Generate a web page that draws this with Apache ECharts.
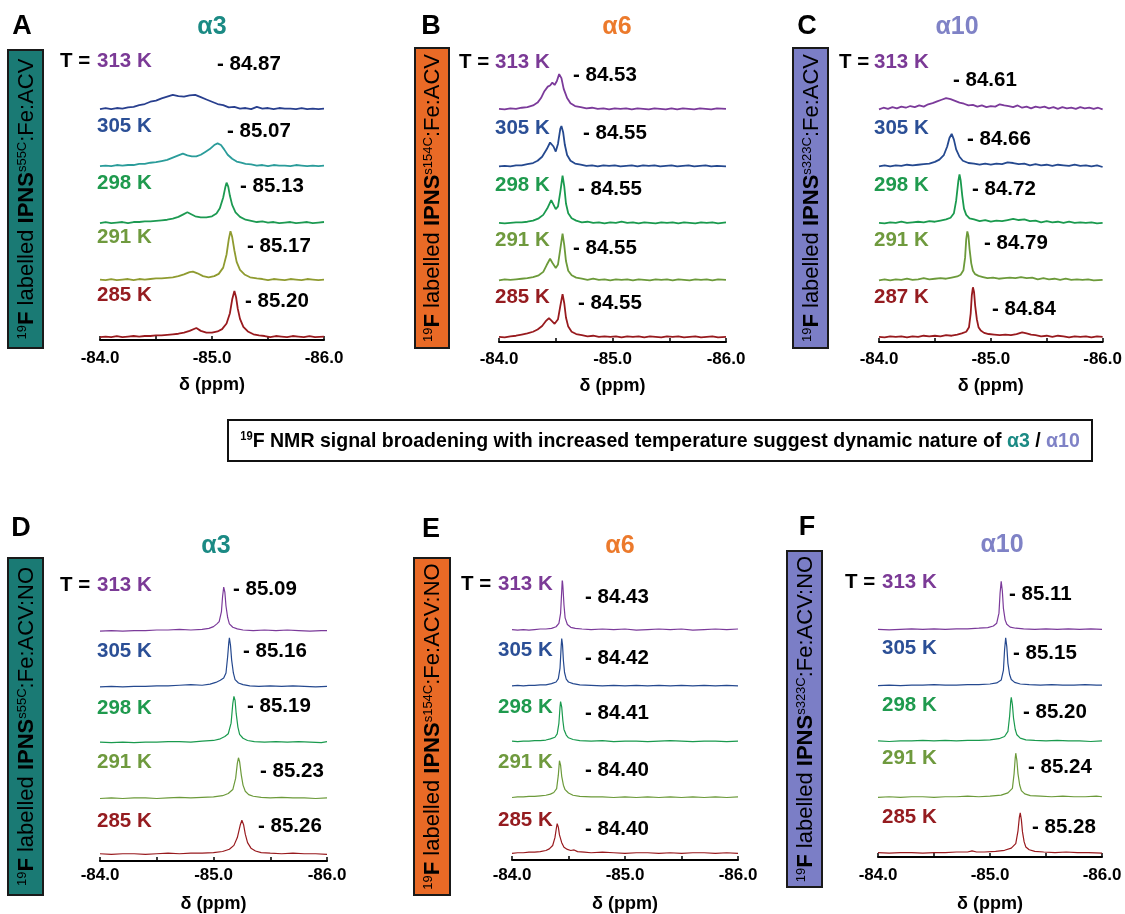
<!DOCTYPE html>
<html>
<head>
<meta charset="utf-8">
<script src="https://cdn.jsdelivr.net/npm/echarts@6/dist/echarts.min.js"></script>
<style>
  html, body { margin: 0; padding: 0; background: #fff; }
  #main { width: 1125px; height: 914px; }
</style>
</head>
<body>
<div id="main"></div>
<script>
// ---- data: 19F spectra, [ppm, intensity], one unit = trace spacing ----
// panel A  (alpha3, Fe:ACV)
const a313 = [[-84.00,0.00],[-84.05,0.02],[-84.10,0.00],[-84.15,0.02],[-84.20,0.01],[-84.25,0.03],[-84.30,0.04],[-84.35,0.07],[-84.40,0.09],[-84.45,0.13],[-84.50,0.15],[-84.55,0.19],[-84.60,0.22],[-84.65,0.25],[-84.70,0.23],[-84.75,0.22],[-84.80,0.24],[-84.85,0.25],[-84.90,0.21],[-84.95,0.17],[-85.00,0.13],[-85.05,0.09],[-85.10,0.07],[-85.15,0.03],[-85.20,0.04],[-85.25,0.01],[-85.30,0.02],[-85.35,0.00],[-85.40,0.04],[-85.45,0.01],[-85.50,0.02],[-85.55,0.00],[-85.60,0.02],[-85.65,0.01],[-85.70,0.01],[-85.75,0.00],[-85.80,0.02],[-85.85,0.00],[-85.90,0.01],[-85.95,0.00],[-86.00,0.01]];
const a305 = [[-84.00,0.00],[-84.05,0.01],[-84.10,0.00],[-84.15,0.02],[-84.20,0.01],[-84.25,0.02],[-84.30,0.02],[-84.35,0.04],[-84.40,0.04],[-84.45,0.06],[-84.50,0.07],[-84.55,0.09],[-84.60,0.11],[-84.65,0.15],[-84.70,0.19],[-84.74,0.22],[-84.78,0.19],[-84.82,0.17],[-84.86,0.17],[-84.90,0.20],[-84.94,0.25],[-84.98,0.30],[-85.02,0.37],[-85.05,0.40],[-85.08,0.37],[-85.11,0.29],[-85.14,0.20],[-85.18,0.13],[-85.22,0.08],[-85.26,0.06],[-85.30,0.04],[-85.35,0.03],[-85.40,0.01],[-85.45,0.02],[-85.50,0.00],[-85.55,0.02],[-85.60,0.01],[-85.65,0.01],[-85.70,0.00],[-85.75,0.02],[-85.80,0.01],[-85.85,0.00],[-85.90,0.01],[-85.95,0.00],[-86.00,0.01]];
const a298 = [[-84.00,0.00],[-84.05,0.02],[-84.10,0.00],[-84.15,0.01],[-84.20,0.02],[-84.25,0.00],[-84.30,0.02],[-84.35,0.02],[-84.40,0.03],[-84.45,0.03],[-84.50,0.04],[-84.55,0.05],[-84.60,0.06],[-84.65,0.08],[-84.70,0.11],[-84.74,0.15],[-84.78,0.19],[-84.81,0.16],[-84.85,0.12],[-84.90,0.10],[-84.95,0.10],[-85.00,0.12],[-85.04,0.17],[-85.07,0.26],[-85.10,0.45],[-85.12,0.64],[-85.13,0.71],[-85.145,0.64],[-85.16,0.48],[-85.18,0.32],[-85.21,0.19],[-85.25,0.11],[-85.30,0.06],[-85.35,0.04],[-85.40,0.02],[-85.45,0.03],[-85.50,0.01],[-85.55,0.02],[-85.60,0.00],[-85.65,0.01],[-85.70,0.02],[-85.75,0.00],[-85.80,0.01],[-85.85,0.02],[-85.90,0.00],[-85.95,0.01],[-86.00,0.02]];
const a291 = [[-84.00,0.01],[-84.05,0.00],[-84.10,0.02],[-84.15,0.00],[-84.20,0.01],[-84.25,0.02],[-84.30,0.00],[-84.35,0.02],[-84.40,0.01],[-84.45,0.02],[-84.50,0.03],[-84.55,0.03],[-84.60,0.04],[-84.65,0.05],[-84.70,0.07],[-84.75,0.10],[-84.80,0.14],[-84.83,0.15],[-84.87,0.12],[-84.92,0.07],[-84.97,0.05],[-85.02,0.07],[-85.06,0.11],[-85.10,0.22],[-85.13,0.45],[-85.15,0.72],[-85.165,0.86],[-85.18,0.76],[-85.20,0.52],[-85.22,0.32],[-85.25,0.18],[-85.29,0.10],[-85.34,0.05],[-85.40,0.03],[-85.45,0.02],[-85.50,0.00],[-85.55,0.02],[-85.60,0.01],[-85.65,0.00],[-85.70,0.02],[-85.75,0.01],[-85.80,0.00],[-85.85,0.02],[-85.90,0.01],[-85.95,0.00],[-86.00,0.01]];
const a285 = [[-84.00,0.00],[-84.05,0.01],[-84.10,0.00],[-84.15,0.02],[-84.20,0.00],[-84.25,0.01],[-84.30,0.02],[-84.35,0.01],[-84.40,0.02],[-84.45,0.02],[-84.50,0.03],[-84.55,0.03],[-84.60,0.04],[-84.65,0.05],[-84.70,0.06],[-84.75,0.08],[-84.80,0.11],[-84.86,0.16],[-84.90,0.11],[-84.95,0.08],[-85.00,0.08],[-85.05,0.10],[-85.09,0.14],[-85.13,0.24],[-85.16,0.42],[-85.18,0.66],[-85.20,0.81],[-85.215,0.70],[-85.23,0.50],[-85.25,0.32],[-85.28,0.18],[-85.32,0.10],[-85.37,0.05],[-85.42,0.03],[-85.47,0.02],[-85.52,0.00],[-85.57,0.02],[-85.62,0.01],[-85.67,0.00],[-85.72,0.02],[-85.77,0.01],[-85.82,0.00],[-85.87,0.02],[-85.92,0.00],[-86.00,0.01]];
// panel B  (alpha6, Fe:ACV)
const b313 = [[-84.00,0.01],[-84.05,0.00],[-84.10,0.02],[-84.15,0.01],[-84.20,0.03],[-84.25,0.04],[-84.30,0.07],[-84.34,0.12],[-84.37,0.20],[-84.40,0.32],[-84.43,0.40],[-84.45,0.42],[-84.47,0.47],[-84.49,0.43],[-84.51,0.50],[-84.53,0.62],[-84.55,0.55],[-84.57,0.36],[-84.60,0.20],[-84.63,0.11],[-84.67,0.06],[-84.72,0.04],[-84.77,0.02],[-84.82,0.03],[-84.87,0.01],[-84.92,0.02],[-84.97,0.00],[-85.02,0.02],[-85.07,0.01],[-85.12,0.02],[-85.17,0.00],[-85.22,0.02],[-85.27,0.01],[-85.32,0.00],[-85.37,0.02],[-85.42,0.01],[-85.47,0.00],[-85.52,0.02],[-85.57,0.00],[-85.62,0.02],[-85.67,0.01],[-85.72,0.00],[-85.77,0.02],[-85.82,0.01],[-85.87,0.00],[-85.92,0.02],[-86.00,0.01]];
const b305 = [[-84.00,0.00],[-84.05,0.01],[-84.10,0.00],[-84.15,0.02],[-84.20,0.02],[-84.25,0.04],[-84.30,0.06],[-84.34,0.10],[-84.38,0.17],[-84.42,0.30],[-84.45,0.42],[-84.46,0.45],[-84.48,0.35],[-84.50,0.26],[-84.52,0.40],[-84.54,0.66],[-84.55,0.71],[-84.565,0.60],[-84.58,0.38],[-84.60,0.20],[-84.63,0.10],[-84.67,0.05],[-84.72,0.03],[-84.77,0.01],[-84.82,0.02],[-84.87,0.00],[-84.92,0.02],[-84.97,0.01],[-85.02,0.02],[-85.07,0.00],[-85.12,0.01],[-85.17,0.02],[-85.22,0.00],[-85.27,0.02],[-85.32,0.01],[-85.37,0.02],[-85.42,0.00],[-85.47,0.01],[-85.52,0.02],[-85.57,0.00],[-85.62,0.01],[-85.67,0.02],[-85.72,0.00],[-85.77,0.01],[-85.82,0.02],[-85.87,0.00],[-85.92,0.01],[-86.00,0.00]];
const b298 = [[-84.00,0.01],[-84.05,0.00],[-84.10,0.01],[-84.15,0.02],[-84.20,0.02],[-84.25,0.03],[-84.30,0.05],[-84.35,0.09],[-84.39,0.15],[-84.43,0.28],[-84.46,0.41],[-84.48,0.33],[-84.50,0.25],[-84.52,0.30],[-84.54,0.55],[-84.56,0.84],[-84.575,0.65],[-84.59,0.35],[-84.61,0.18],[-84.64,0.09],[-84.68,0.05],[-84.73,0.02],[-84.78,0.03],[-84.83,0.01],[-84.88,0.02],[-84.93,0.00],[-84.98,0.02],[-85.03,0.01],[-85.08,0.03],[-85.13,0.01],[-85.18,0.02],[-85.23,0.00],[-85.28,0.02],[-85.33,0.01],[-85.38,0.00],[-85.43,0.02],[-85.48,0.01],[-85.53,0.02],[-85.58,0.00],[-85.63,0.02],[-85.68,0.01],[-85.73,0.00],[-85.78,0.02],[-85.83,0.01],[-85.88,0.02],[-85.93,0.00],[-86.00,0.02]];
const b291 = [[-84.00,0.00],[-84.05,0.02],[-84.10,0.01],[-84.15,0.02],[-84.20,0.03],[-84.25,0.04],[-84.30,0.06],[-84.35,0.09],[-84.39,0.15],[-84.42,0.27],[-84.45,0.38],[-84.47,0.31],[-84.50,0.22],[-84.52,0.28],[-84.54,0.55],[-84.56,0.82],[-84.575,0.62],[-84.59,0.34],[-84.61,0.17],[-84.64,0.09],[-84.68,0.05],[-84.73,0.03],[-84.78,0.01],[-84.83,0.03],[-84.88,0.01],[-84.93,0.02],[-84.98,0.00],[-85.03,0.02],[-85.08,0.01],[-85.13,0.02],[-85.18,0.00],[-85.23,0.02],[-85.28,0.01],[-85.33,0.00],[-85.38,0.02],[-85.43,0.01],[-85.48,0.02],[-85.53,0.00],[-85.58,0.02],[-85.63,0.01],[-85.68,0.00],[-85.73,0.02],[-85.78,0.01],[-85.83,0.02],[-85.88,0.00],[-85.93,0.02],[-86.00,0.01]];
const b285 = [[-84.00,0.01],[-84.05,0.00],[-84.10,0.02],[-84.15,0.03],[-84.20,0.05],[-84.25,0.07],[-84.30,0.10],[-84.34,0.14],[-84.38,0.20],[-84.41,0.28],[-84.44,0.34],[-84.46,0.30],[-84.49,0.24],[-84.52,0.32],[-84.54,0.55],[-84.56,0.76],[-84.575,0.60],[-84.59,0.35],[-84.61,0.19],[-84.64,0.10],[-84.68,0.06],[-84.73,0.04],[-84.78,0.02],[-84.83,0.03],[-84.88,0.01],[-84.93,0.02],[-84.98,0.01],[-85.03,0.02],[-85.08,0.00],[-85.13,0.02],[-85.18,0.01],[-85.23,0.02],[-85.28,0.00],[-85.33,0.02],[-85.38,0.01],[-85.43,0.00],[-85.48,0.02],[-85.53,0.01],[-85.58,0.02],[-85.63,0.00],[-85.68,0.01],[-85.73,0.02],[-85.78,0.00],[-85.83,0.01],[-85.88,0.02],[-85.93,0.00],[-86.00,0.01]];
// panel C  (alpha10, Fe:ACV)
const c313 = [[-84.00,0.00],[-84.04,0.03],[-84.08,0.01],[-84.12,0.04],[-84.16,0.02],[-84.20,0.05],[-84.24,0.03],[-84.28,0.06],[-84.32,0.04],[-84.36,0.07],[-84.40,0.05],[-84.44,0.09],[-84.48,0.11],[-84.52,0.14],[-84.56,0.17],[-84.60,0.20],[-84.64,0.18],[-84.68,0.15],[-84.72,0.12],[-84.76,0.10],[-84.80,0.07],[-84.84,0.08],[-84.88,0.05],[-84.92,0.07],[-84.96,0.04],[-85.00,0.06],[-85.04,0.05],[-85.08,0.09],[-85.12,0.07],[-85.16,0.06],[-85.20,0.04],[-85.24,0.07],[-85.28,0.03],[-85.32,0.05],[-85.36,0.02],[-85.40,0.05],[-85.44,0.03],[-85.48,0.05],[-85.52,0.02],[-85.56,0.04],[-85.60,0.01],[-85.64,0.04],[-85.68,0.02],[-85.72,0.03],[-85.76,0.01],[-85.80,0.04],[-85.84,0.02],[-85.88,0.03],[-85.92,0.01],[-85.96,0.03],[-86.00,0.00]];
const c305 = [[-84.00,0.00],[-84.05,0.02],[-84.10,0.00],[-84.15,0.02],[-84.20,0.01],[-84.25,0.03],[-84.30,0.02],[-84.35,0.03],[-84.40,0.04],[-84.45,0.05],[-84.50,0.08],[-84.54,0.12],[-84.58,0.20],[-84.61,0.35],[-84.63,0.50],[-84.65,0.57],[-84.67,0.47],[-84.69,0.30],[-84.72,0.17],[-84.75,0.10],[-84.80,0.06],[-84.85,0.05],[-84.90,0.03],[-84.95,0.05],[-85.00,0.03],[-85.05,0.05],[-85.10,0.04],[-85.15,0.07],[-85.20,0.06],[-85.25,0.04],[-85.30,0.05],[-85.35,0.02],[-85.40,0.04],[-85.45,0.02],[-85.50,0.03],[-85.55,0.01],[-85.60,0.03],[-85.65,0.02],[-85.70,0.01],[-85.75,0.03],[-85.80,0.01],[-85.85,0.02],[-85.90,0.00],[-85.95,0.02],[-86.00,-0.01]];
const c298 = [[-84.00,0.01],[-84.05,0.00],[-84.10,0.02],[-84.15,0.01],[-84.20,0.03],[-84.25,0.01],[-84.30,0.02],[-84.35,0.03],[-84.40,0.02],[-84.45,0.04],[-84.50,0.03],[-84.55,0.05],[-84.60,0.07],[-84.64,0.10],[-84.67,0.18],[-84.69,0.40],[-84.71,0.75],[-84.72,0.86],[-84.73,0.76],[-84.745,0.48],[-84.76,0.26],[-84.78,0.15],[-84.81,0.09],[-84.85,0.07],[-84.90,0.04],[-84.95,0.06],[-85.00,0.03],[-85.05,0.05],[-85.10,0.04],[-85.15,0.06],[-85.20,0.08],[-85.25,0.06],[-85.30,0.07],[-85.35,0.04],[-85.40,0.05],[-85.45,0.02],[-85.50,0.04],[-85.55,0.02],[-85.60,0.03],[-85.65,0.01],[-85.70,0.03],[-85.75,0.01],[-85.80,0.02],[-85.85,0.01],[-85.90,0.02],[-85.95,0.00],[-86.00,0.01]];
const c291 = [[-84.00,0.00],[-84.05,0.02],[-84.10,0.00],[-84.15,0.02],[-84.20,0.01],[-84.25,0.03],[-84.30,0.01],[-84.35,0.02],[-84.40,0.04],[-84.45,0.02],[-84.50,0.03],[-84.55,0.04],[-84.60,0.03],[-84.65,0.05],[-84.70,0.07],[-84.73,0.10],[-84.755,0.18],[-84.77,0.40],[-84.78,0.72],[-84.79,0.86],[-84.80,0.78],[-84.81,0.55],[-84.825,0.30],[-84.84,0.17],[-84.86,0.11],[-84.89,0.08],[-84.93,0.06],[-84.97,0.04],[-85.02,0.05],[-85.07,0.03],[-85.12,0.04],[-85.17,0.05],[-85.22,0.04],[-85.27,0.06],[-85.32,0.04],[-85.37,0.05],[-85.42,0.02],[-85.47,0.04],[-85.52,0.02],[-85.57,0.03],[-85.62,0.01],[-85.67,0.03],[-85.72,0.01],[-85.77,0.02],[-85.82,0.01],[-85.87,0.02],[-85.92,0.00],[-86.00,0.01]];
const c287 = [[-84.00,0.01],[-84.05,0.00],[-84.10,0.02],[-84.15,0.01],[-84.20,0.02],[-84.25,0.00],[-84.30,0.02],[-84.35,0.01],[-84.40,0.03],[-84.45,0.02],[-84.50,0.03],[-84.55,0.02],[-84.60,0.04],[-84.65,0.03],[-84.70,0.05],[-84.74,0.07],[-84.78,0.10],[-84.805,0.18],[-84.82,0.42],[-84.83,0.74],[-84.84,0.88],[-84.85,0.80],[-84.86,0.56],[-84.875,0.32],[-84.89,0.18],[-84.91,0.12],[-84.94,0.08],[-84.98,0.06],[-85.03,0.05],[-85.08,0.04],[-85.13,0.05],[-85.18,0.04],[-85.23,0.06],[-85.28,0.09],[-85.32,0.07],[-85.36,0.05],[-85.40,0.04],[-85.45,0.02],[-85.50,0.03],[-85.55,0.01],[-85.60,0.03],[-85.65,0.02],[-85.70,0.00],[-85.75,0.02],[-85.80,0.01],[-85.85,0.02],[-85.90,0.00],[-85.95,0.02],[-86.00,0.01]];
// panel D  (alpha3, Fe:ACV:NO)
const d313 = [[-84.00,0.00],[-84.10,0.01],[-84.20,0.00],[-84.30,0.01],[-84.40,0.01],[-84.50,0.02],[-84.60,0.02],[-84.70,0.03],[-84.80,0.02],[-84.90,0.03],[-84.96,0.05],[-85.00,0.08],[-85.03,0.13],[-85.05,0.17],[-85.07,0.35],[-85.08,0.62],[-85.09,0.79],[-85.10,0.70],[-85.11,0.45],[-85.125,0.24],[-85.14,0.13],[-85.17,0.07],[-85.21,0.04],[-85.26,0.02],[-85.35,0.01],[-85.45,0.02],[-85.55,0.01],[-85.65,0.02],[-85.75,0.01],[-85.85,0.00],[-85.95,0.01],[-86.00,0.01]];
const d305 = [[-84.00,0.00],[-84.10,0.01],[-84.20,0.00],[-84.30,0.01],[-84.40,0.01],[-84.50,0.02],[-84.60,0.02],[-84.70,0.03],[-84.80,0.04],[-84.90,0.03],[-84.97,0.05],[-85.02,0.08],[-85.06,0.12],[-85.09,0.16],[-85.11,0.25],[-85.125,0.55],[-85.135,0.80],[-85.14,0.88],[-85.15,0.74],[-85.16,0.48],[-85.175,0.25],[-85.19,0.13],[-85.22,0.07],[-85.26,0.04],[-85.32,0.02],[-85.40,0.01],[-85.50,0.02],[-85.60,0.01],[-85.70,0.02],[-85.80,0.01],[-85.90,0.00],[-86.00,0.01]];
const d298 = [[-84.00,0.01],[-84.10,0.00],[-84.20,0.01],[-84.30,0.00],[-84.40,0.01],[-84.50,0.01],[-84.60,0.02],[-84.70,0.02],[-84.80,0.01],[-84.90,0.03],[-85.00,0.04],[-85.06,0.07],[-85.10,0.11],[-85.13,0.16],[-85.155,0.35],[-85.17,0.70],[-85.18,0.83],[-85.19,0.76],[-85.20,0.52],[-85.215,0.28],[-85.23,0.15],[-85.26,0.08],[-85.30,0.04],[-85.36,0.02],[-85.45,0.01],[-85.55,0.02],[-85.65,0.01],[-85.75,0.02],[-85.85,0.01],[-85.95,0.00],[-86.00,0.02]];
const d291 = [[-84.00,0.00],[-84.10,0.01],[-84.20,0.00],[-84.30,0.01],[-84.40,0.01],[-84.50,0.00],[-84.60,0.01],[-84.70,0.02],[-84.80,0.01],[-84.90,0.02],[-85.00,0.03],[-85.08,0.05],[-85.13,0.09],[-85.17,0.16],[-85.195,0.36],[-85.21,0.63],[-85.22,0.73],[-85.23,0.66],[-85.245,0.42],[-85.26,0.24],[-85.28,0.13],[-85.31,0.07],[-85.35,0.04],[-85.42,0.02],[-85.50,0.01],[-85.60,0.02],[-85.70,0.01],[-85.80,0.01],[-85.90,0.00],[-86.00,0.01]];
const d285 = [[-84.00,0.01],[-84.10,0.00],[-84.20,0.01],[-84.30,0.01],[-84.40,0.00],[-84.50,0.01],[-84.60,0.02],[-84.70,0.01],[-84.80,0.02],[-84.90,0.02],[-85.00,0.03],[-85.08,0.05],[-85.14,0.09],[-85.18,0.16],[-85.21,0.30],[-85.235,0.52],[-85.25,0.61],[-85.265,0.53],[-85.28,0.36],[-85.30,0.21],[-85.33,0.11],[-85.37,0.06],[-85.42,0.03],[-85.50,0.02],[-85.60,0.01],[-85.70,0.02],[-85.80,0.01],[-85.90,0.01],[-86.00,0.00]];
// panel E  (alpha6, Fe:ACV:NO)
const e313 = [[-84.00,0.01],[-84.05,0.00],[-84.10,0.01],[-84.15,0.00],[-84.20,0.01],[-84.25,0.02],[-84.30,0.02],[-84.35,0.03],[-84.39,0.06],[-84.415,0.12],[-84.43,0.30],[-84.44,0.70],[-84.445,0.91],[-84.45,0.80],[-84.46,0.45],[-84.47,0.22],[-84.49,0.10],[-84.52,0.05],[-84.56,0.03],[-84.62,0.02],[-84.70,0.01],[-84.80,0.02],[-84.90,0.01],[-85.00,0.02],[-85.10,0.00],[-85.20,0.01],[-85.30,0.02],[-85.40,0.01],[-85.50,0.02],[-85.60,0.00],[-85.70,0.01],[-85.80,0.02],[-85.90,0.01],[-86.00,0.02]];
const e305 = [[-84.00,0.00],[-84.05,0.01],[-84.10,0.00],[-84.15,0.01],[-84.20,0.01],[-84.25,0.02],[-84.30,0.02],[-84.35,0.04],[-84.39,0.07],[-84.41,0.13],[-84.425,0.32],[-84.435,0.70],[-84.44,0.85],[-84.447,0.74],[-84.455,0.45],[-84.465,0.24],[-84.48,0.12],[-84.50,0.07],[-84.54,0.04],[-84.60,0.02],[-84.70,0.01],[-84.80,0.00],[-84.90,0.01],[-85.00,0.00],[-85.10,0.01],[-85.20,0.00],[-85.30,0.01],[-85.40,0.00],[-85.50,0.01],[-85.60,0.00],[-85.70,0.01],[-85.80,0.00],[-85.90,0.01],[-86.00,0.00]];
const e298 = [[-84.00,0.01],[-84.05,0.00],[-84.10,0.01],[-84.15,0.01],[-84.20,0.02],[-84.25,0.02],[-84.30,0.03],[-84.34,0.05],[-84.38,0.08],[-84.40,0.14],[-84.415,0.33],[-84.425,0.62],[-84.43,0.72],[-84.44,0.62],[-84.45,0.38],[-84.46,0.22],[-84.48,0.12],[-84.50,0.07],[-84.54,0.04],[-84.60,0.02],[-84.70,0.01],[-84.80,0.02],[-84.90,0.00],[-85.00,0.01],[-85.10,0.01],[-85.20,0.00],[-85.30,0.01],[-85.40,0.02],[-85.50,0.01],[-85.60,0.00],[-85.70,0.01],[-85.80,0.01],[-85.90,0.00],[-86.00,0.01]];
const e291 = [[-84.00,0.00],[-84.05,0.01],[-84.10,0.01],[-84.15,0.02],[-84.20,0.02],[-84.25,0.03],[-84.30,0.04],[-84.34,0.06],[-84.37,0.09],[-84.395,0.16],[-84.41,0.40],[-84.42,0.66],[-84.43,0.58],[-84.44,0.38],[-84.455,0.22],[-84.47,0.14],[-84.50,0.08],[-84.54,0.04],[-84.60,0.02],[-84.70,0.01],[-84.80,0.01],[-84.90,0.00],[-85.00,0.01],[-85.10,0.00],[-85.20,0.01],[-85.30,0.00],[-85.40,0.01],[-85.50,0.00],[-85.60,0.01],[-85.70,0.00],[-85.80,0.01],[-85.90,0.00],[-86.00,0.01]];
const e285 = [[-84.00,0.00],[-84.05,0.01],[-84.10,0.01],[-84.15,0.02],[-84.20,0.02],[-84.25,0.03],[-84.30,0.05],[-84.33,0.08],[-84.36,0.14],[-84.38,0.28],[-84.395,0.48],[-84.40,0.53],[-84.41,0.47],[-84.42,0.33],[-84.44,0.19],[-84.46,0.11],[-84.49,0.07],[-84.52,0.05],[-84.55,0.06],[-84.58,0.03],[-84.64,0.02],[-84.70,0.01],[-84.80,0.02],[-84.90,0.01],[-85.00,0.00],[-85.10,0.01],[-85.20,0.01],[-85.30,0.00],[-85.40,0.01],[-85.50,0.00],[-85.60,0.01],[-85.70,0.01],[-85.80,0.00],[-85.90,0.01],[-86.00,0.00]];
// panel F  (alpha10, Fe:ACV:NO)
const f313 = [[-84.00,0.01],[-84.10,0.00],[-84.20,0.01],[-84.30,0.02],[-84.40,0.01],[-84.50,0.02],[-84.60,0.01],[-84.70,0.02],[-84.80,0.02],[-84.90,0.03],[-84.98,0.04],[-85.03,0.07],[-85.06,0.12],[-85.08,0.30],[-85.09,0.66],[-85.10,0.87],[-85.11,0.70],[-85.12,0.38],[-85.135,0.18],[-85.15,0.10],[-85.18,0.05],[-85.23,0.03],[-85.30,0.02],[-85.40,0.01],[-85.50,0.02],[-85.60,0.01],[-85.70,0.02],[-85.80,0.01],[-85.90,0.02],[-86.00,0.01]];
const f305 = [[-84.00,0.00],[-84.10,0.01],[-84.20,0.00],[-84.30,0.01],[-84.40,0.01],[-84.50,0.02],[-84.60,0.01],[-84.70,0.01],[-84.80,0.02],[-84.90,0.02],[-85.00,0.03],[-85.06,0.05],[-85.10,0.10],[-85.12,0.28],[-85.13,0.64],[-85.14,0.86],[-85.15,0.70],[-85.16,0.40],[-85.175,0.20],[-85.19,0.11],[-85.22,0.06],[-85.27,0.03],[-85.35,0.02],[-85.45,0.01],[-85.55,0.02],[-85.65,0.01],[-85.75,0.01],[-85.85,0.02],[-85.95,0.01],[-86.00,0.01]];
const f298 = [[-84.00,0.01],[-84.10,0.00],[-84.20,0.01],[-84.30,0.01],[-84.40,0.02],[-84.50,0.01],[-84.60,0.02],[-84.70,0.01],[-84.80,0.02],[-84.90,0.02],[-85.00,0.03],[-85.08,0.05],[-85.13,0.09],[-85.16,0.18],[-85.175,0.45],[-85.185,0.72],[-85.19,0.79],[-85.20,0.66],[-85.21,0.42],[-85.225,0.22],[-85.24,0.12],[-85.27,0.06],[-85.32,0.03],[-85.40,0.02],[-85.50,0.01],[-85.60,0.02],[-85.70,0.01],[-85.80,0.01],[-85.90,0.00],[-86.00,0.01]];
const f291 = [[-84.00,0.00],[-84.10,0.01],[-84.20,0.00],[-84.30,0.01],[-84.40,0.01],[-84.50,0.00],[-84.60,0.01],[-84.70,0.01],[-84.80,0.02],[-84.90,0.01],[-85.00,0.02],[-85.10,0.04],[-85.16,0.08],[-85.20,0.16],[-85.215,0.42],[-85.225,0.70],[-85.23,0.79],[-85.24,0.66],[-85.25,0.42],[-85.265,0.22],[-85.28,0.12],[-85.31,0.06],[-85.36,0.03],[-85.45,0.02],[-85.55,0.01],[-85.65,0.02],[-85.75,0.01],[-85.85,0.01],[-85.95,0.02],[-86.00,0.01]];
const f285 = [[-84.00,0.01],[-84.10,0.00],[-84.20,0.01],[-84.30,0.01],[-84.40,0.00],[-84.50,0.01],[-84.60,0.01],[-84.70,0.02],[-84.80,0.02],[-84.84,0.04],[-84.88,0.02],[-84.95,0.02],[-85.05,0.03],[-85.13,0.05],[-85.19,0.09],[-85.23,0.17],[-85.25,0.40],[-85.262,0.64],[-85.27,0.72],[-85.28,0.60],[-85.29,0.38],[-85.305,0.20],[-85.32,0.11],[-85.35,0.06],[-85.40,0.03],[-85.48,0.02],[-85.58,0.01],[-85.68,0.02],[-85.78,0.01],[-85.88,0.01],[-86.00,0.00]];

const panelTraces = [
    [a313, a305, a298, a291, a285],
    [b313, b305, b298, b291, b285],
    [c313, c305, c298, c291, c287],
    [d313, d305, d298, d291, d285],
    [e313, e305, e298, e291, e285],
    [f313, f305, f298, f291, f285]
];

// ---- text content ----
const panelLetters = ['A', 'B', 'C', 'D', 'E', 'F'];
const helixTitles = ['α3', 'α6', 'α10', 'α3', 'α6', 'α10'];
const sampleSites = ['s55C', 's154C', 's323C', 's55C', 's154C', 's323C'];
const complexes = [':Fe:ACV', ':Fe:ACV', ':Fe:ACV', ':Fe:ACV:NO', ':Fe:ACV:NO', ':Fe:ACV:NO'];
const tempLabels = [
    ['313 K', '305 K', '298 K', '291 K', '285 K'],
    ['313 K', '305 K', '298 K', '291 K', '285 K'],
    ['313 K', '305 K', '298 K', '291 K', '287 K'],
    ['313 K', '305 K', '298 K', '291 K', '285 K'],
    ['313 K', '305 K', '298 K', '291 K', '285 K'],
    ['313 K', '305 K', '298 K', '291 K', '285 K']
];
const shiftLabels = [
    ['- 84.87', '- 85.07', '- 85.13', '- 85.17', '- 85.20'],
    ['- 84.53', '- 84.55', '- 84.55', '- 84.55', '- 84.55'],
    ['- 84.61', '- 84.66', '- 84.72', '- 84.79', '- 84.84'],
    ['- 85.09', '- 85.16', '- 85.19', '- 85.23', '- 85.26'],
    ['- 84.43', '- 84.42', '- 84.41', '- 84.40', '- 84.40'],
    ['- 85.11', '- 85.15', '- 85.20', '- 85.24', '- 85.28']
];

// ---- styling / layout ----
const FONT = "'Liberation Sans', Arial, sans-serif";
const helixColors = ['#1b8a84', '#ec7a2c', '#7f82c6', '#1b8a84', '#ec7a2c', '#7f82c6'];
const boxColors = ['#1a7a74', '#e96a26', '#7b7ec6', '#1a7a74', '#e96a26', '#7b7ec6'];
const labelColors = ['#7b3a96', '#2b4f96', '#1f9a4e', '#6f9a3e', '#951c20'];
const traceColorsA = ['#283f8e', '#2a9c9a', '#1d9a52', '#8f9b30', '#991a1e'];
const traceColors = ['#7b3a9a', '#25498f', '#1a9a4e', '#6c9a3a', '#981a1e'];
const PX_PER_UNIT = 57;
const LABEL_SIZE = 20.5;

const layout = [
    {letter: [22, 27], title: [212, 27], box: [8, 50, 35, 298], x0: 100, x1: 324, axisY: 340, base: 0.05, tEq: 60, tempX: 97,
     tempY: [61, 126, 183, 237, 295], shiftX: [217, 227, 240, 247, 245], shiftY: [64, 131, 186, 246, 301], margin: 10, nameGap: 36, lw: 1.8},
    {letter: [431, 27], title: [617, 27], box: [415, 48, 34, 300], x0: 499, x1: 726, axisY: 342, base: 0.08, tEq: 459, tempX: 495,
     tempY: [62, 128, 185, 240, 297], shiftX: [573, 583, 578, 573, 578], shiftY: [75, 133, 189, 248, 303], margin: 9, nameGap: 35, lw: 1.8},
    {letter: [807, 27], title: [957, 27], box: [793, 48, 35, 300], x0: 879, x1: 1104, axisY: 342, base: 0.08, tEq: 839, tempX: 874,
     tempY: [62, 128, 185, 240, 297], shiftX: [953, 967, 972, 984, 992], shiftY: [80, 139, 189, 243, 309], margin: 9, nameGap: 35, lw: 1.8},
    {letter: [21, 529], title: [216, 546], box: [8, 558, 35, 337], x0: 100, x1: 327, axisY: 867, base: 0.12, tEq: 60, tempX: 97,
     tempY: [585, 651, 708, 762, 821], shiftX: [233, 243, 247, 260, 258], shiftY: [589, 651, 706, 771, 826], margin: 6, nameGap: 34, lw: 1.2},
    {letter: [431, 530], title: [620, 546], box: [414, 558, 36, 337], x0: 512, x1: 738, axisY: 866, base: 0.12, tEq: 461, tempX: 498,
     tempY: [584, 650, 707, 762, 820], shiftX: [585, 585, 585, 585, 585], shiftY: [597, 658, 713, 770, 829], margin: 7, nameGap: 35, lw: 1.2},
    {letter: [807, 528], title: [1002, 545], box: [787, 551, 35, 336], x0: 878, x1: 1102, axisY: 863, base: 0.07, tEq: 845, tempX: 882,
     tempY: [582, 648, 705, 758, 817], shiftX: [1009, 1013, 1023, 1028, 1032], shiftY: [594, 653, 712, 767, 827], margin: 10, nameGap: 38, lw: 1.2}
];

function boldText(x, y, text, color, size, align) {
    return {
        type: 'text', x: x, y: y, silent: true,
        style: {text: text, fill: color, font: 'bold ' + size + 'px ' + FONT,
                align: align || 'left', verticalAlign: 'middle'}
    };
}

let grids = [], xAxes = [], yAxes = [], series = [], graphics = [];

layout.forEach(function (L, p) {
    grids.push({left: L.x0, width: L.x1 - L.x0, top: L.axisY - 5 * PX_PER_UNIT, height: 5 * PX_PER_UNIT});
    xAxes.push({
        gridIndex: p, type: 'value', min: -86, max: -84, interval: 0.5, inverse: true,
        axisLine: {onZero: false, lineStyle: {color: '#000', width: 2}},
        axisTick: {inside: true, length: 4, lineStyle: {color: '#000', width: 1.5}},
        splitLine: {show: false},
        axisLabel: {
            margin: L.margin, color: '#000', fontWeight: 'bold', fontSize: 17, fontFamily: FONT,
            formatter: function (v) { return Math.abs(v - Math.round(v)) < 1e-6 ? v.toFixed(1) : ''; }
        },
        name: 'δ (ppm)', nameLocation: 'middle', nameGap: L.nameGap,
        nameTextStyle: {color: '#000', fontWeight: 'bold', fontSize: 18, fontFamily: FONT}
    });
    yAxes.push({gridIndex: p, type: 'value', min: 0, max: 5, show: false});

    const colors = p === 0 ? traceColorsA : traceColors;
    panelTraces[p].forEach(function (trace, r) {
        const shift = L.base + (4 - r);   // stack: top row = 313 K
        series.push({
            type: 'line', xAxisIndex: p, yAxisIndex: p,
            data: trace.map(function (pt) { return [pt[0], pt[1] + shift]; }),
            showSymbol: false, symbol: 'none', silent: true, animation: false,
            lineStyle: {color: colors[r], width: L.lw}
        });
    });

    // panel letter and helix title
    graphics.push(boldText(L.letter[0], L.letter[1], panelLetters[p], '#000', 27, 'center'));
    graphics.push(boldText(L.title[0], L.title[1], helixTitles[p], helixColors[p], 25, 'center'));

    // coloured side box with rotated sample name
    const b = L.box;
    graphics.push({type: 'rect', silent: true, shape: {x: b[0], y: b[1], width: b[2], height: b[3]},
                   style: {fill: boxColors[p], stroke: '#1a1a1a', lineWidth: 2}});
    graphics.push({
        type: 'text', silent: true, x: b[0] + b[2] / 2 + 1, y: b[1] + b[3] / 2, rotation: Math.PI / 2,
        style: {
            text: '{sup|19}{f|F}{n| labelled }{f|IPNS}{sup|' + sampleSites[p] + '}{n|' + complexes[p] + '}',
            align: 'center', verticalAlign: 'middle',
            rich: {
                sup: {fontFamily: FONT, fontSize: 13, fill: '#000', verticalAlign: 'top'},
                f: {fontFamily: FONT, fontSize: 22, fontWeight: 'bold', fill: '#000'},
                n: {fontFamily: FONT, fontSize: 22, fill: '#000'}
            }
        }
    });

    // temperature + chemical shift labels
    graphics.push(boldText(L.tEq, L.tempY[0], 'T =', '#000', LABEL_SIZE));
    tempLabels[p].forEach(function (t, r) {
        graphics.push(boldText(L.tempX, L.tempY[r], t, labelColors[r], LABEL_SIZE));
        graphics.push(boldText(L.shiftX[r], L.shiftY[r], shiftLabels[p][r], '#000', LABEL_SIZE));
    });
});

// central banner
graphics.push({type: 'rect', silent: true, shape: {x: 228, y: 420, width: 864, height: 41},
               style: {fill: '#fff', stroke: '#111', lineWidth: 2}});
graphics.push({
    type: 'text', silent: true, x: 660, y: 441, scaleX: 0.93,
    style: {
        text: '{sup|19}{b|F NMR signal broadening with increased temperature suggest dynamic nature of }{t|α3}{b| / }{l|α10}',
        align: 'center', verticalAlign: 'middle',
        rich: {
            sup: {fontFamily: FONT, fontWeight: 'bold', fontSize: 12, fill: '#000', verticalAlign: 'top'},
            b: {fontFamily: FONT, fontWeight: 'bold', fontSize: 21, fill: '#000'},
            t: {fontFamily: FONT, fontWeight: 'bold', fontSize: 21, fill: '#1b8a84'},
            l: {fontFamily: FONT, fontWeight: 'bold', fontSize: 21, fill: '#7f82c6'}
        }
    }
});

const myChart = echarts.init(document.getElementById('main'), null, {renderer: 'canvas'});
myChart.setOption({
    backgroundColor: '#fff',
    animation: false,
    grid: grids,
    xAxis: xAxes,
    yAxis: yAxes,
    series: series,
    graphic: graphics
});
</script>
</body>
</html>
